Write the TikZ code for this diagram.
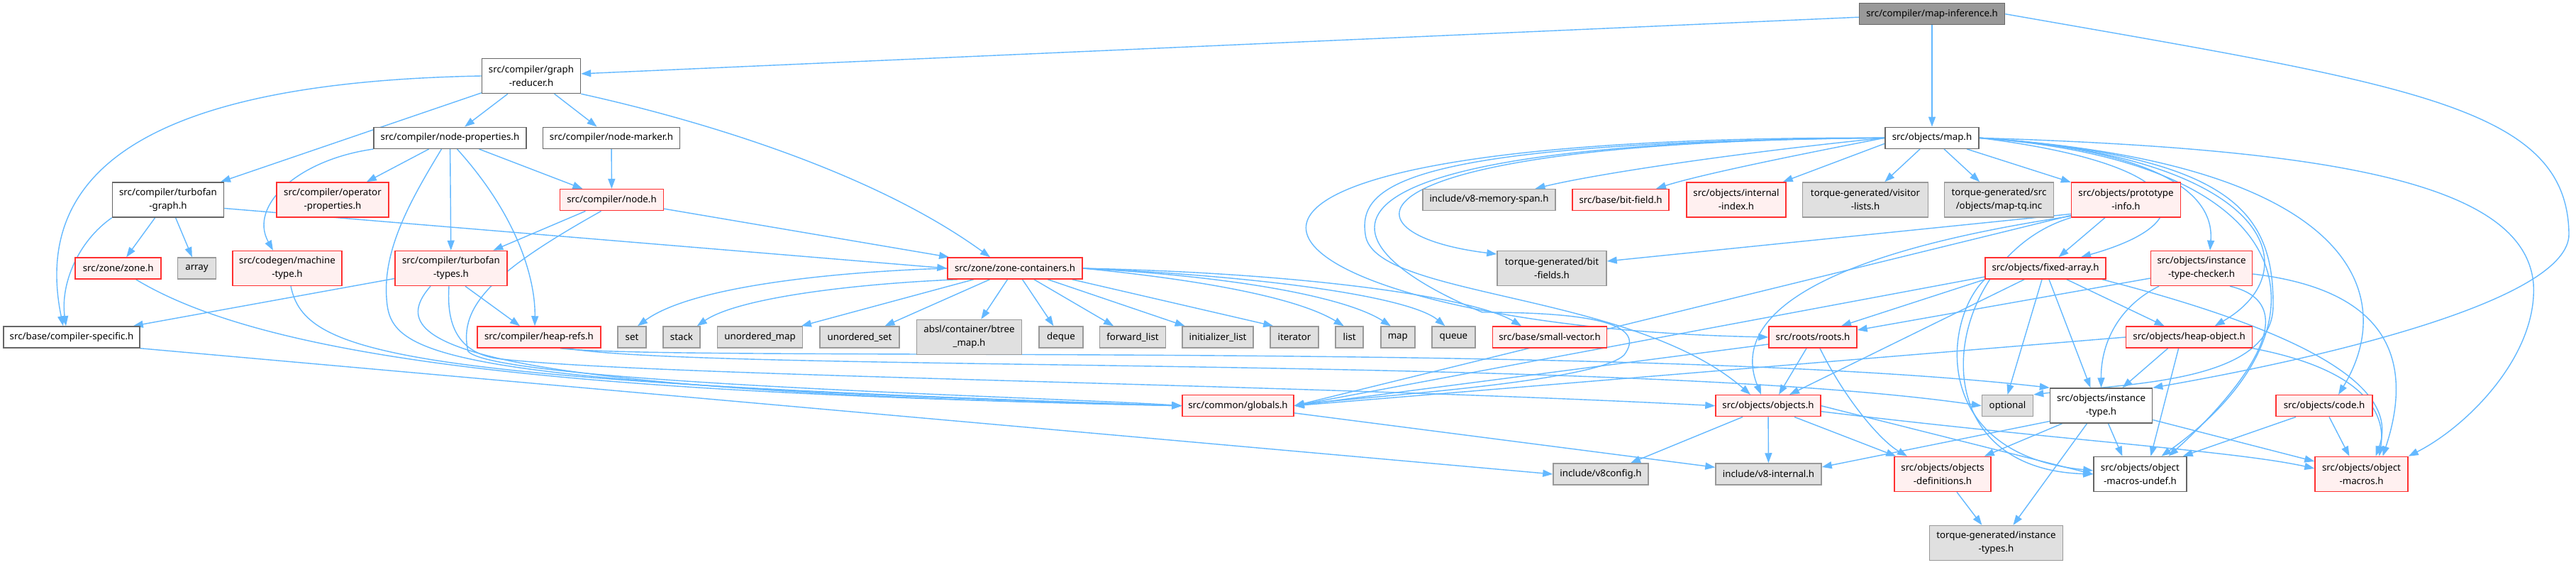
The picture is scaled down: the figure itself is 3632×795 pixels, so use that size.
\documentclass[tikz,border=0pt]{standalone}
\usepackage{fontspec}
\newfontfamily\dxfam{Noto Sans}
\usetikzlibrary{arrows.meta,backgrounds}
\definecolor{cEdge}{HTML}{63B8FF}
\definecolor{cRed}{HTML}{FF3030}
\definecolor{cRedFill}{HTML}{FFF0F0}
\definecolor{cGray}{HTML}{E0E0E0}
\definecolor{cGrayB}{HTML}{999999}
\definecolor{cWB}{HTML}{666666}
\definecolor{cRoot}{HTML}{999999}
\newcommand\dxfont{\dxfam\fontsize{13.3}{19}\selectfont}
\tikzset{
 nb/.style={rectangle, inner sep=0pt, align=center, font=\dxfont, line width=1.5pt, text=black},
 wn/.style={nb, draw=cWB, fill=white},
 rn/.style={nb, draw=cRed, fill=cRedFill},
 gn/.style={nb, draw=cGrayB, fill=cGray},
 rootn/.style={nb, draw=cWB, fill=cRoot},
 sl/.style={minimum height=30pt},
 dl/.style={minimum height=49pt},
 edge/.style={draw=cEdge, line width=1.4pt, -{Triangle[length=14pt,width=10pt]}},
}
\begin{document}
\begin{tikzpicture}[x=1pt,y=-1pt]
\useasboundingbox (0,0) rectangle (3632,795);
% nodes
\node[rootn, sl, minimum width=205pt] (mi) at (2724,19.7) {src/compiler/map-inference.h};
\node[wn, dl, minimum width=139pt] (gr) at (749,107) {src/compiler/graph\\-reducer.h};
\node[wn, sl, minimum width=215pt] (np) at (634.5,194.3) {src/compiler/node-properties.h};
\node[wn, sl, minimum width=193pt] (nm) at (862,194.3) {src/compiler/node-marker.h};
\node[wn, dl, minimum width=157pt] (tg) at (237,281.5) {src/compiler/turbofan\\-graph.h};
\node[rn, dl, minimum width=158pt] (op) at (469,281.5) {src/compiler/operator\\-properties.h};
\node[rn, sl, minimum width=146pt] (nd) at (862.5,281.7) {src/compiler/node.h};
\node[rn, sl, minimum width=121pt] (zone) at (166.7,378) {src/zone/zone.h};
\node[gn, sl, minimum width=54pt] (arr) at (277.5,378) {array};
\node[rn, dl, minimum width=154pt] (mt) at (405,378) {src/codegen/machine\\-type.h};
\node[rn, dl, minimum width=158pt] (tt) at (636,378) {src/compiler/turbofan\\-types.h};
\node[rn, sl, minimum width=190pt] (zc) at (1431,378) {src/zone/zone-containers.h};
\node[wn, sl, minimum width=132pt] (map) at (2724,194.3) {src/objects/map.h};
\node[gn, sl, minimum width=187pt] (vms) at (2099.5,281.5) {include/v8-memory-span.h};
\node[rn, sl, minimum width=136pt] (bf) at (2285,281.5) {src/base/bit-field.h};
\node[rn, dl, minimum width=140pt] (ii) at (2448,281.5) {src/objects/internal\\-index.h};
\node[gn, dl, minimum width=177pt] (vl) at (2630,281.5) {torque-generated/visitor\\-lists.h};
\node[gn, dl, minimum width=154pt] (tq) at (2818.5,281.5) {torque-generated/src\\/objects/map-tq.inc};
\node[rn, dl, minimum width=154pt] (pi) at (2997.5,281.5) {src/objects/prototype\\-info.h};
\node[gn, dl, minimum width=154pt] (bfs) at (2188,378) {torque-generated/bit\\-fields.h};
\node[rn, sl, minimum width=170pt] (fa) at (2884,378) {src/objects/fixed-array.h};
\node[rn, dl, minimum width=143pt] (itc) at (3104,378) {src/objects/instance\\-type-checker.h};
\node[wn, sl, minimum width=192pt] (cs) at (101,475) {src/base/compiler-specific.h};
\node[rn, sl, minimum width=174pt] (hr) at (760,475) {src/compiler/heap-refs.h};
\node[gn, sl, minimum width=40pt] (set) at (891,475) {set};
\node[gn, sl, minimum width=52pt] (stack) at (961,475) {stack};
\node[gn, sl, minimum width=120pt] (umap) at (1071.6,475) {unordered\_map};
\node[gn, sl, minimum width=112pt] (uset) at (1212,475) {unordered\_set};
\node[gn, dl, minimum width=148pt] (btree) at (1366.5,475) {absl/container/btree\\\_map.h};
\node[gn, sl, minimum width=62pt] (deque) at (1496,475) {deque};
\node[gn, sl, minimum width=93pt] (fl) at (1597,475) {forward\_list};
\node[gn, sl, minimum width=100pt] (il) at (1717,475) {initializer\_list};
\node[gn, sl, minimum width=68pt] (iter) at (1825,475) {iterator};
\node[gn, sl, minimum width=39pt] (list) at (1902.7,475) {list};
\node[gn, sl, minimum width=48pt] (mapstd) at (1970.8,475) {map};
\node[gn, sl, minimum width=61pt] (queue) at (2049.4,475) {queue};
\node[rn, sl, minimum width=161pt] (sv) at (2185,475) {src/base/small-vector.h};
\node[rn, sl, minimum width=124pt] (roots) at (2556,475) {src/roots/roots.h};
\node[rn, sl, minimum width=178pt] (ho) at (3086.6,475) {src/objects/heap-object.h};
\node[rn, sl, minimum width=157pt] (glob) at (1745.5,571.7) {src/common/globals.h};
\node[rn, sl, minimum width=148pt] (obj) at (2493,571.7) {src/objects/objects.h};
\node[gn, sl, minimum width=72pt] (opt) at (2830.5,571.7) {optional};
\node[wn, dl, minimum width=144pt] (it) at (2962.5,571.5) {src/objects/instance\\-type.h};
\node[rn, sl, minimum width=136pt] (code) at (3277,571.7) {src/objects/code.h};
\node[gn, sl, minimum width=134pt] (v8c) at (2257,668) {include/v8config.h};
\node[gn, sl, minimum width=149pt] (v8i) at (2493.5,668) {include/v8-internal.h};
\node[rn, dl, minimum width=136pt] (od) at (2739,668) {src/objects/objects\\-definitions.h};
\node[wn, dl, minimum width=131pt] (mu) at (3017.4,668) {src/objects/object\\-macros-undef.h};
\node[rn, dl, minimum width=131pt] (om) at (3329.5,668) {src/objects/object\\-macros.h};
\node[gn, dl, minimum width=188pt] (its) at (2814.4,765) {torque-generated/instance\\-types.h};
% edges
\begin{pgfonlayer}{background}
\draw[edge] (mi) -- (gr);
\draw[edge] (mi) -- (map);
\draw[edge] (mi.east) .. controls (3400,120) and (3620,150) .. (3622,330) .. controls (3622,420) and (3300,500) .. (it.north east);
\draw[edge] (gr) -- (np);
\draw[edge] (gr) -- (nm);
\draw[edge] (gr) -- (tg);
\draw[edge] (gr.west) .. controls (250,115) and (40,220) .. ([xshift=-12]cs.north);
\draw[edge] (gr.south east) .. controls (900,150) and (1200,220) .. ([xshift=-35]zc.north);
\draw[edge] (nm) -- (nd);
\draw[edge] (np) -- (op);
\draw[edge] (np) -- (nd);
\draw[edge] (np) -- (tt);
\draw[edge] (np.south west) .. controls (420,225) and (350,290) .. ([xshift=-20]mt.north);
\draw[edge] ([xshift=10]np.south) .. controls (735,310) and (755,400) .. ([xshift=-6]hr.north);
\draw[edge] ([xshift=-12]np.south) .. controls (580,280) and (540,350) .. (545,420) .. controls (550,500) and (600,540) .. (glob.west);
\draw[edge] (nd) -- (tt);
\draw[edge] (nd) -- (zc);
\draw[edge] ([xshift=-15]nd.south) .. controls (700,380) and (645,430) .. (660,495) .. controls (700,540) and (1500,560) .. (glob.west);
\draw[edge] (tg) -- (zone);
\draw[edge] (tg) -- (arr);
\draw[edge] ([yshift=-12]tg.east) -- (zc.west);
\draw[edge] (tg.south west) .. controls (110,340) and (85,400) .. ([xshift=-8]cs.north);
\draw[edge] (tt) -- (cs);
\draw[edge] ([xshift=20]tt.south) -- ([xshift=-27]hr.north);
\draw[edge] ([xshift=-29]tt.south) .. controls (540,480) and (620,550) .. (glob.west);
\draw[edge] ([xshift=-3]tt.south) .. controls (630,450) and (640,495) .. (700,505) .. controls (900,530) and (1800,540) .. (obj.west);
\draw[edge] ([xshift=5]mt.south) .. controls (430,500) and (560,535) .. (glob.west);
\draw[edge] ([xshift=25]zone.south) .. controls (400,520) and (900,555) .. (glob.west);
\draw[edge] (cs.south east) -- (v8c.west);
\draw[edge] ([xshift=40]hr.south) .. controls (1000,525) and (2300,500) .. (opt.west);
\draw[edge] ([xshift=30]hr.south) .. controls (950,510) and (2300,480) .. (it.north west);
\draw[edge] (glob) -- (v8i);
% zone-containers
\draw[edge] (zc.west) .. controls (1200,382) and (980,400) .. ([xshift=8]set.north);
\draw[edge] ([xshift=15]zc.south west) .. controls (1200,400) and (1040,420) .. ([xshift=-5]stack.north east);
\draw[edge] (zc) -- (umap);
\draw[edge] (zc) -- (uset);
\draw[edge] (zc) -- (btree);
\draw[edge] (zc) -- (deque);
\draw[edge] (zc) -- (fl);
\draw[edge] (zc) -- (il);
\draw[edge] ([xshift=-15]zc.south east) -- ([xshift=5]iter.north west);
\draw[edge] (zc.east) .. controls (1700,395) and (1830,420) .. ([xshift=-8]list.north);
\draw[edge] (zc.east) .. controls (1750,390) and (1900,420) .. ([xshift=-10]mapstd.north);
\draw[edge] (zc.east) .. controls (1800,390) and (1990,420) .. ([xshift=-12]queue.north);
\draw[edge] (zc.east) .. controls (1850,385) and (2080,420) .. ([xshift=-40]sv.north);
% map.h
\draw[edge] (map.west) .. controls (2450,215) and (2250,245) .. ([xshift=65]vms.north);
\draw[edge] (map.west) .. controls (2550,215) and (2400,245) .. ([xshift=50]bf.north);
\draw[edge] ([yshift=-8]map.west) -- ([xshift=-5]ii.north east);
\draw[edge] (map) -- (vl);
\draw[edge] (map) -- (tq);
\draw[edge] (map) -- (pi);
\draw[edge] (map.west) .. controls (1880,200) and (1880,330) .. ([yshift=20]bfs.west);
\draw[edge] (map.west) .. controls (1450,190) and (1750,460) .. (roots.west);
\draw[edge] (map.west) .. controls (1980,200) and (1915,260) .. (1925,330) .. controls (1935,420) and (2300,410) .. ([xshift=-25]obj.north);
\draw[edge] (map.west) .. controls (1800,200) and (1850,340) .. (2090,440) .. controls (2260,440) and (2320,460) .. (2290,500) .. controls (2250,540) and (1900,560) .. (glob.east);
\draw[edge] (map.east) .. controls (3080,230) and (3120,310) .. ([xshift=50]fa.north);
\draw[edge] (map.east) .. controls (3100,215) and (3120,300) .. ([xshift=12]itc.north);
\draw[edge] (map.east) .. controls (3200,220) and (3260,380) .. ([xshift=36]ho.north);
\draw[edge] (map.east) .. controls (3150,220) and (3205,300) .. (3205,430) .. controls (3205,540) and (3000,540) .. (opt.north east);
\draw[edge] (map.east) .. controls (3330,230) and (3380,420) .. ([xshift=20]code.north);
\draw[edge] (map.east) .. controls (3300,210) and (3560,260) .. (3572,400) .. controls (3578,500) and (3480,600) .. (om.north east);
\draw[edge] (map.east) .. controls (3270,230) and (3290,470) .. ([xshift=30]mu.north);
% fixed-array
\draw[edge] ([xshift=30]fa.south) -- ([xshift=-35]ho.north);
\draw[edge] ([xshift=5]fa.south) -- ([xshift=-15]it.north);
\draw[edge] ([xshift=-5]fa.south) -- (opt.north);
\draw[edge] (fa.south west) -- ([xshift=40]roots.north);
\draw[edge] ([xshift=-30]fa.south) -- ([xshift=30]obj.north);
\draw[edge] ([yshift=-12]fa.west) -- (glob.east);
\draw[edge] (fa.south west) .. controls (2740,450) and (2720,640) .. ([yshift=5]mu.west);
\draw[edge] ([xshift=80]fa.south) .. controls (3300,480) and (3380,560) .. ([xshift=20]om.north);
% prototype-info
\draw[edge] (pi) -- (fa);
\draw[edge] ([yshift=-20]pi.west) -- ([yshift=10]bfs.east);
\draw[edge] ([yshift=-22]pi.west) -- (glob.east);
\draw[edge] ([yshift=-23]pi.west) .. controls (2550,360) and (2440,450) .. ([xshift=-10]obj.north);
\draw[edge] (pi.south west) .. controls (2740,360) and (2690,660) .. (mu.west);
% instance-type-checker
\draw[edge] ([xshift=-60]itc.south) .. controls (2990,430) and (2962,480) .. (it.north);
\draw[edge] ([yshift=-14]itc.west) -- ([yshift=10]roots.east);
\draw[edge] ([yshift=-8]itc.east) .. controls (3380,410) and (3400,520) .. ([xshift=30]om.north);
\draw[edge] ([xshift=40]itc.south) .. controls (3260,430) and (3150,560) .. ([xshift=40]mu.north);
% heap-object
\draw[edge] ([xshift=-30]ho.south) -- ([xshift=30]it.north);
\draw[edge] ([xshift=-15]ho.south) -- ([xshift=15]mu.north);
\draw[edge] (ho.south east) .. controls (3330,520) and (3365,580) .. ([xshift=25]om.north);
\draw[edge] (ho.west) -- (glob.east);
% code
\draw[edge] ([xshift=-40]code.south) -- ([xshift=-6]mu.north east);
\draw[edge] ([xshift=7]code.south) -- ([xshift=-17]om.north);
% instance-type
\draw[edge] ([xshift=-55]it.south) -- ([xshift=-10]od.north east);
\draw[edge] ([xshift=-20]it.south) -- ([xshift=24]its.north);
\draw[edge] ([xshift=10]it.south) -- ([xshift=-25]mu.north);
\draw[edge] ([yshift=-20]it.east) -- ([yshift=18]om.west);
\draw[edge] ([yshift=-22]it.west) -- ([yshift=10]v8i.east);
% roots
\draw[edge] ([xshift=-9]roots.south) -- ([xshift=15]obj.north);
\draw[edge] ([xshift=10]roots.south) .. controls (2600,560) and (2650,620) .. ([xshift=-50]od.north);
\draw[edge] ([yshift=-10]roots.west) -- (glob.east);
% objects
\draw[edge] ([xshift=-36]obj.south) -- ([xshift=42]v8c.north);
\draw[edge] (obj) -- (v8i);
\draw[edge] ([xshift=37]obj.south) -- ([xshift=3]od.north west);
\draw[edge] (obj.east) -- (mu.west);
\draw[edge] ([yshift=-8]obj.east) .. controls (2900,620) and (3150,635) .. ([yshift=8]om.west);
% objects-definitions
\draw[edge] ([xshift=20]od.south) -- ([xshift=-20]its.north);
\end{pgfonlayer}
\end{tikzpicture}
\end{document}
